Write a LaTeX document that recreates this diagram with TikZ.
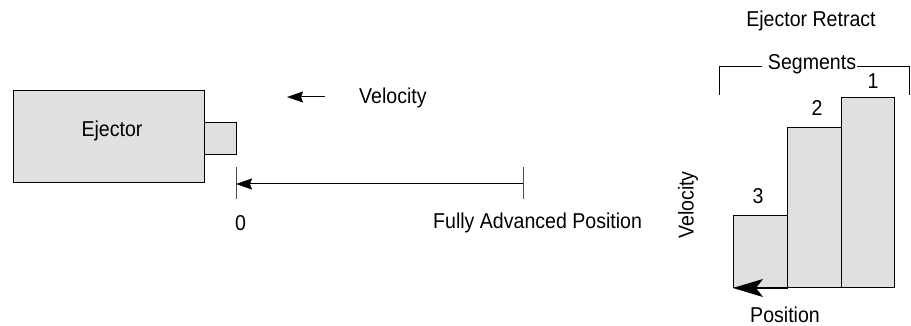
\documentclass[tikz,border=0pt]{standalone}
\usepackage{fontspec}
\setmainfont{Liberation Sans}[FakeStretch=0.91]
\usetikzlibrary{arrows.meta}
\definecolor{boxgray}{HTML}{E0E0E0}
\begin{document}
\begin{tikzpicture}[x=1pt,y=-1pt,
  lbl/.style={font=\fontsize{21.5}{24}\selectfont, inner sep=0pt},
  box/.style={draw=black, line width=1pt, fill=boxgray, inner sep=0pt, anchor=north west},
  tick/.style={draw=black!70, line width=1pt},
  smallarrow/.style={-{Stealth[length=16pt,width=11pt,inset=2pt]}, line width=1pt},
  bigarrow/.style={-{Stealth[length=30pt,width=18pt,inset=7pt]}, line width=1pt}]
\useasboundingbox (0,0) rectangle (911,326);
% Ejector
\node[box, minimum width=191pt, minimum height=92pt] (ej) at (13,90) {};
\node[lbl] (ejl) at (112,131) {Ejector};
\node[box, minimum width=32pt, minimum height=32pt] (rod) at (204,122) {};
% velocity arrow
\coordinate (va) at (325,97);
\coordinate (vb) at (287,97);
\draw[smallarrow] (va) -- (vb);
\node[lbl, anchor=west] (vel) at (359,98) {Velocity};
% ruler
\coordinate (t0a) at (236,167);
\coordinate (t0b) at (236,199);
\coordinate (t1a) at (523,167);
\coordinate (t1b) at (523,199);
\draw[tick] (t0a) -- (t0b);
\draw[tick] (t1a) -- (t1b);
\coordinate (ra) at (523,184);
\coordinate (rb) at (236,184);
\draw[smallarrow] (ra) -- (rb);
\node[lbl, anchor=west] (zero) at (235,223) {0};
\node[lbl, anchor=west] (fap) at (433,223) {Fully Advanced Position};
% right diagram
\node[lbl] (er) at (811,21) {Ejector Retract};
\node[lbl] (seg) at (812,64) {Segments};
\coordinate (bl1) at (719,95);
\coordinate (bl2) at (719,67);
\coordinate (br1) at (909,95);
\coordinate (br2) at (909,67);
\draw[line width=1pt] (bl1) -- (bl2) -- ([xshift=-6pt]seg.west |- bl2);
\draw[line width=1pt] (br1) -- (br2) -- ([xshift=1pt]seg.east |- br2);
\node[box, minimum width=54pt, minimum height=72pt] (b3) at (733,215) {};
\node[box, minimum width=54pt, minimum height=160pt] (b2) at (787,127) {};
\node[box, minimum width=53pt, minimum height=190pt] (b1) at (841,97) {};
\node[lbl] (n1) at (873,81) {1};
\node[lbl] (n2) at (817,108) {2};
\node[lbl] (n3) at (758,196) {3};
\draw[bigarrow] (b3.south east) -- (b3.south west);
\node[lbl, rotate=90] (vel2) at (688,205) {Velocity};
\node[lbl] (pos) at (785,315) {Position};
\end{tikzpicture}
\end{document}
